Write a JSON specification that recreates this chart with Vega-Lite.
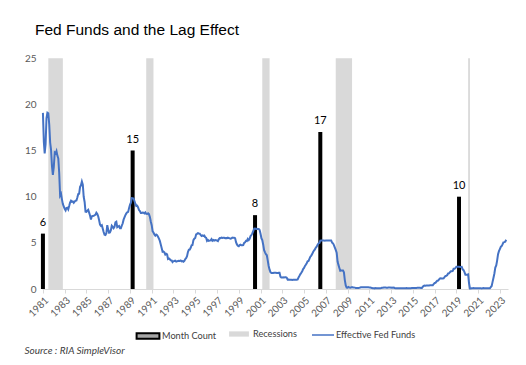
{
  "$schema": "https://vega.github.io/schema/vega-lite/v6.json",
  "autosize": {"type": "none"},
  "width": 466,
  "height": 240,
  "padding": {"left": 42, "top": 49, "right": 18, "bottom": 76},
  "background": "white",
  "title": {
    "text": "Fed Funds and the Lag Effect",
    "anchor": "start",
    "frame": "group",
    "dx": -7,
    "offset": 11,
    "font": "Liberation Sans",
    "fontSize": 15.5,
    "fontWeight": "normal",
    "color": "#000000"
  },
  "datasets": {
    "ff": [
      {"d":"1981-01","v":19.08},{"d":"1981-02","v":15.93},{"d":"1981-03","v":14.70},{"d":"1981-04","v":15.72},{"d":"1981-05","v":18.52},{"d":"1981-06","v":19.10},{"d":"1981-07","v":19.04},{"d":"1981-08","v":17.82},{"d":"1981-09","v":15.87},{"d":"1981-10","v":15.08},{"d":"1981-11","v":13.31},{"d":"1981-12","v":12.37},
      {"d":"1982-01","v":13.22},{"d":"1982-02","v":14.78},{"d":"1982-03","v":14.68},{"d":"1982-04","v":14.94},{"d":"1982-05","v":14.45},{"d":"1982-06","v":14.15},{"d":"1982-07","v":12.59},{"d":"1982-08","v":10.12},{"d":"1982-09","v":10.31},{"d":"1982-10","v":9.71},{"d":"1982-11","v":9.20},{"d":"1982-12","v":8.95},
      {"d":"1983-01","v":8.68},{"d":"1983-02","v":8.51},{"d":"1983-03","v":8.77},{"d":"1983-04","v":8.80},{"d":"1983-05","v":8.63},{"d":"1983-06","v":8.98},{"d":"1983-07","v":9.37},{"d":"1983-08","v":9.56},{"d":"1983-09","v":9.45},{"d":"1983-10","v":9.48},{"d":"1983-11","v":9.34},{"d":"1983-12","v":9.47},
      {"d":"1984-01","v":9.56},{"d":"1984-02","v":9.59},{"d":"1984-03","v":9.91},{"d":"1984-04","v":10.29},{"d":"1984-05","v":10.32},{"d":"1984-06","v":11.06},{"d":"1984-07","v":11.23},{"d":"1984-08","v":11.64},{"d":"1984-09","v":11.30},{"d":"1984-10","v":9.99},{"d":"1984-11","v":9.43},{"d":"1984-12","v":8.38},
      {"d":"1985-01","v":8.35},{"d":"1985-02","v":8.50},{"d":"1985-03","v":8.58},{"d":"1985-04","v":8.27},{"d":"1985-05","v":7.97},{"d":"1985-06","v":7.53},{"d":"1985-07","v":7.88},{"d":"1985-08","v":7.90},{"d":"1985-09","v":7.92},{"d":"1985-10","v":7.99},{"d":"1985-11","v":8.05},{"d":"1985-12","v":8.27},
      {"d":"1986-01","v":8.14},{"d":"1986-02","v":7.86},{"d":"1986-03","v":7.48},{"d":"1986-04","v":6.99},{"d":"1986-05","v":6.85},{"d":"1986-06","v":6.92},{"d":"1986-07","v":6.56},{"d":"1986-08","v":6.17},{"d":"1986-09","v":5.89},{"d":"1986-10","v":5.85},{"d":"1986-11","v":6.04},{"d":"1986-12","v":6.91},
      {"d":"1987-01","v":6.43},{"d":"1987-02","v":6.10},{"d":"1987-03","v":6.13},{"d":"1987-04","v":6.37},{"d":"1987-05","v":6.85},{"d":"1987-06","v":6.73},{"d":"1987-07","v":6.58},{"d":"1987-08","v":6.73},{"d":"1987-09","v":7.22},{"d":"1987-10","v":7.29},{"d":"1987-11","v":6.69},{"d":"1987-12","v":6.77},
      {"d":"1988-01","v":6.83},{"d":"1988-02","v":6.58},{"d":"1988-03","v":6.58},{"d":"1988-04","v":6.87},{"d":"1988-05","v":7.09},{"d":"1988-06","v":7.51},{"d":"1988-07","v":7.75},{"d":"1988-08","v":8.01},{"d":"1988-09","v":8.19},{"d":"1988-10","v":8.30},{"d":"1988-11","v":8.35},{"d":"1988-12","v":8.76},
      {"d":"1989-01","v":9.12},{"d":"1989-02","v":9.36},{"d":"1989-03","v":9.85},{"d":"1989-04","v":9.84},{"d":"1989-05","v":9.81},{"d":"1989-06","v":9.53},{"d":"1989-07","v":9.24},{"d":"1989-08","v":8.99},{"d":"1989-09","v":9.02},{"d":"1989-10","v":8.84},{"d":"1989-11","v":8.55},{"d":"1989-12","v":8.45},
      {"d":"1990-01","v":8.23},{"d":"1990-02","v":8.24},{"d":"1990-03","v":8.28},{"d":"1990-04","v":8.26},{"d":"1990-05","v":8.18},{"d":"1990-06","v":8.29},{"d":"1990-07","v":8.15},{"d":"1990-08","v":8.13},{"d":"1990-09","v":8.20},{"d":"1990-10","v":8.11},{"d":"1990-11","v":7.81},{"d":"1990-12","v":7.31},
      {"d":"1991-01","v":6.91},{"d":"1991-02","v":6.25},{"d":"1991-03","v":6.12},{"d":"1991-04","v":5.91},{"d":"1991-05","v":5.78},{"d":"1991-06","v":5.90},{"d":"1991-07","v":5.82},{"d":"1991-08","v":5.66},{"d":"1991-09","v":5.45},{"d":"1991-10","v":5.21},{"d":"1991-11","v":4.81},{"d":"1991-12","v":4.43},
      {"d":"1992-01","v":4.03},{"d":"1992-02","v":4.06},{"d":"1992-03","v":3.98},{"d":"1992-04","v":3.73},{"d":"1992-05","v":3.82},{"d":"1992-06","v":3.76},{"d":"1992-07","v":3.25},{"d":"1992-08","v":3.30},{"d":"1992-09","v":3.22},{"d":"1992-10","v":3.10},{"d":"1992-11","v":3.09},{"d":"1992-12","v":2.92},
      {"d":"1993-01","v":3.02},{"d":"1993-02","v":3.03},{"d":"1993-03","v":3.07},{"d":"1993-04","v":2.96},{"d":"1993-05","v":3.00},{"d":"1993-06","v":3.04},{"d":"1993-07","v":3.06},{"d":"1993-08","v":3.03},{"d":"1993-09","v":3.09},{"d":"1993-10","v":2.99},{"d":"1993-11","v":3.02},{"d":"1993-12","v":2.96},
      {"d":"1994-01","v":3.05},{"d":"1994-02","v":3.25},{"d":"1994-03","v":3.34},{"d":"1994-04","v":3.56},{"d":"1994-05","v":4.01},{"d":"1994-06","v":4.25},{"d":"1994-07","v":4.26},{"d":"1994-08","v":4.47},{"d":"1994-09","v":4.73},{"d":"1994-10","v":4.76},{"d":"1994-11","v":5.29},{"d":"1994-12","v":5.45},
      {"d":"1995-01","v":5.53},{"d":"1995-02","v":5.92},{"d":"1995-03","v":5.98},{"d":"1995-04","v":6.05},{"d":"1995-05","v":6.01},{"d":"1995-06","v":6.00},{"d":"1995-07","v":5.85},{"d":"1995-08","v":5.74},{"d":"1995-09","v":5.80},{"d":"1995-10","v":5.76},{"d":"1995-11","v":5.80},{"d":"1995-12","v":5.60},
      {"d":"1996-01","v":5.56},{"d":"1996-02","v":5.22},{"d":"1996-03","v":5.31},{"d":"1996-04","v":5.22},{"d":"1996-05","v":5.24},{"d":"1996-06","v":5.27},{"d":"1996-07","v":5.40},{"d":"1996-08","v":5.22},{"d":"1996-09","v":5.30},{"d":"1996-10","v":5.24},{"d":"1996-11","v":5.31},{"d":"1996-12","v":5.29},
      {"d":"1997-01","v":5.25},{"d":"1997-02","v":5.19},{"d":"1997-03","v":5.39},{"d":"1997-04","v":5.51},{"d":"1997-05","v":5.50},{"d":"1997-06","v":5.56},{"d":"1997-07","v":5.52},{"d":"1997-08","v":5.54},{"d":"1997-09","v":5.54},{"d":"1997-10","v":5.50},{"d":"1997-11","v":5.52},{"d":"1997-12","v":5.50},
      {"d":"1998-01","v":5.56},{"d":"1998-02","v":5.51},{"d":"1998-03","v":5.49},{"d":"1998-04","v":5.45},{"d":"1998-05","v":5.49},{"d":"1998-06","v":5.56},{"d":"1998-07","v":5.54},{"d":"1998-08","v":5.55},{"d":"1998-09","v":5.51},{"d":"1998-10","v":5.07},{"d":"1998-11","v":4.83},{"d":"1998-12","v":4.68},
      {"d":"1999-01","v":4.63},{"d":"1999-02","v":4.76},{"d":"1999-03","v":4.81},{"d":"1999-04","v":4.74},{"d":"1999-05","v":4.74},{"d":"1999-06","v":4.76},{"d":"1999-07","v":4.99},{"d":"1999-08","v":5.07},{"d":"1999-09","v":5.22},{"d":"1999-10","v":5.20},{"d":"1999-11","v":5.42},{"d":"1999-12","v":5.30},
      {"d":"2000-01","v":5.45},{"d":"2000-02","v":5.73},{"d":"2000-03","v":5.85},{"d":"2000-04","v":6.02},{"d":"2000-05","v":6.27},{"d":"2000-06","v":6.53},{"d":"2000-07","v":6.54},{"d":"2000-08","v":6.50},{"d":"2000-09","v":6.52},{"d":"2000-10","v":6.51},{"d":"2000-11","v":6.51},{"d":"2000-12","v":6.40},
      {"d":"2001-01","v":5.98},{"d":"2001-02","v":5.49},{"d":"2001-03","v":5.31},{"d":"2001-04","v":4.80},{"d":"2001-05","v":4.21},{"d":"2001-06","v":3.97},{"d":"2001-07","v":3.77},{"d":"2001-08","v":3.65},{"d":"2001-09","v":3.07},{"d":"2001-10","v":2.49},{"d":"2001-11","v":2.09},{"d":"2001-12","v":1.82},
      {"d":"2002-01","v":1.73},{"d":"2002-02","v":1.74},{"d":"2002-03","v":1.73},{"d":"2002-04","v":1.75},{"d":"2002-05","v":1.75},{"d":"2002-06","v":1.75},{"d":"2002-07","v":1.73},{"d":"2002-08","v":1.74},{"d":"2002-09","v":1.75},{"d":"2002-10","v":1.75},{"d":"2002-11","v":1.34},{"d":"2002-12","v":1.24},
      {"d":"2003-01","v":1.24},{"d":"2003-02","v":1.26},{"d":"2003-03","v":1.25},{"d":"2003-04","v":1.26},{"d":"2003-05","v":1.26},{"d":"2003-06","v":1.22},{"d":"2003-07","v":1.01},{"d":"2003-08","v":1.03},{"d":"2003-09","v":1.01},{"d":"2003-10","v":1.01},{"d":"2003-11","v":1.00},{"d":"2003-12","v":0.98},
      {"d":"2004-01","v":1.00},{"d":"2004-02","v":1.01},{"d":"2004-03","v":1.00},{"d":"2004-04","v":1.00},{"d":"2004-05","v":1.00},{"d":"2004-06","v":1.03},{"d":"2004-07","v":1.26},{"d":"2004-08","v":1.43},{"d":"2004-09","v":1.61},{"d":"2004-10","v":1.76},{"d":"2004-11","v":1.93},{"d":"2004-12","v":2.16},
      {"d":"2005-01","v":2.28},{"d":"2005-02","v":2.50},{"d":"2005-03","v":2.63},{"d":"2005-04","v":2.79},{"d":"2005-05","v":3.00},{"d":"2005-06","v":3.04},{"d":"2005-07","v":3.26},{"d":"2005-08","v":3.50},{"d":"2005-09","v":3.62},{"d":"2005-10","v":3.78},{"d":"2005-11","v":4.00},{"d":"2005-12","v":4.16},
      {"d":"2006-01","v":4.29},{"d":"2006-02","v":4.49},{"d":"2006-03","v":4.59},{"d":"2006-04","v":4.79},{"d":"2006-05","v":4.94},{"d":"2006-06","v":4.99},{"d":"2006-07","v":5.24},{"d":"2006-08","v":5.25},{"d":"2006-09","v":5.25},{"d":"2006-10","v":5.25},{"d":"2006-11","v":5.25},{"d":"2006-12","v":5.24},
      {"d":"2007-01","v":5.25},{"d":"2007-02","v":5.26},{"d":"2007-03","v":5.26},{"d":"2007-04","v":5.25},{"d":"2007-05","v":5.25},{"d":"2007-06","v":5.25},{"d":"2007-07","v":5.26},{"d":"2007-08","v":5.02},{"d":"2007-09","v":4.94},{"d":"2007-10","v":4.76},{"d":"2007-11","v":4.49},{"d":"2007-12","v":4.24},
      {"d":"2008-01","v":3.94},{"d":"2008-02","v":2.98},{"d":"2008-03","v":2.61},{"d":"2008-04","v":2.28},{"d":"2008-05","v":1.98},{"d":"2008-06","v":2.00},{"d":"2008-07","v":2.01},{"d":"2008-08","v":2.00},{"d":"2008-09","v":1.81},{"d":"2008-10","v":0.97},{"d":"2008-11","v":0.39},{"d":"2008-12","v":0.16},
      {"d":"2009-01","v":0.15},{"d":"2009-02","v":0.22},{"d":"2009-03","v":0.18},{"d":"2009-04","v":0.15},{"d":"2009-05","v":0.18},{"d":"2009-06","v":0.21},{"d":"2009-07","v":0.16},{"d":"2009-08","v":0.16},{"d":"2009-09","v":0.15},{"d":"2009-10","v":0.12},{"d":"2009-11","v":0.12},{"d":"2009-12","v":0.12},
      {"d":"2010-01","v":0.11},{"d":"2010-02","v":0.13},{"d":"2010-03","v":0.16},{"d":"2010-04","v":0.20},{"d":"2010-05","v":0.20},{"d":"2010-06","v":0.18},{"d":"2010-07","v":0.18},{"d":"2010-08","v":0.19},{"d":"2010-09","v":0.19},{"d":"2010-10","v":0.19},{"d":"2010-11","v":0.19},{"d":"2010-12","v":0.18},
      {"d":"2011-01","v":0.17},{"d":"2011-02","v":0.16},{"d":"2011-03","v":0.14},{"d":"2011-04","v":0.10},{"d":"2011-05","v":0.09},{"d":"2011-06","v":0.09},{"d":"2011-07","v":0.07},{"d":"2011-08","v":0.10},{"d":"2011-09","v":0.08},{"d":"2011-10","v":0.07},{"d":"2011-11","v":0.08},{"d":"2011-12","v":0.07},
      {"d":"2012-01","v":0.08},{"d":"2012-02","v":0.10},{"d":"2012-03","v":0.13},{"d":"2012-04","v":0.14},{"d":"2012-05","v":0.16},{"d":"2012-06","v":0.16},{"d":"2012-07","v":0.16},{"d":"2012-08","v":0.13},{"d":"2012-09","v":0.14},{"d":"2012-10","v":0.16},{"d":"2012-11","v":0.16},{"d":"2012-12","v":0.16},
      {"d":"2013-01","v":0.14},{"d":"2013-02","v":0.15},{"d":"2013-03","v":0.14},{"d":"2013-04","v":0.15},{"d":"2013-05","v":0.11},{"d":"2013-06","v":0.09},{"d":"2013-07","v":0.09},{"d":"2013-08","v":0.08},{"d":"2013-09","v":0.08},{"d":"2013-10","v":0.09},{"d":"2013-11","v":0.08},{"d":"2013-12","v":0.09},
      {"d":"2014-01","v":0.07},{"d":"2014-02","v":0.07},{"d":"2014-03","v":0.08},{"d":"2014-04","v":0.09},{"d":"2014-05","v":0.09},{"d":"2014-06","v":0.10},{"d":"2014-07","v":0.09},{"d":"2014-08","v":0.09},{"d":"2014-09","v":0.09},{"d":"2014-10","v":0.09},{"d":"2014-11","v":0.09},{"d":"2014-12","v":0.12},
      {"d":"2015-01","v":0.11},{"d":"2015-02","v":0.11},{"d":"2015-03","v":0.11},{"d":"2015-04","v":0.12},{"d":"2015-05","v":0.12},{"d":"2015-06","v":0.13},{"d":"2015-07","v":0.13},{"d":"2015-08","v":0.14},{"d":"2015-09","v":0.14},{"d":"2015-10","v":0.12},{"d":"2015-11","v":0.12},{"d":"2015-12","v":0.24},
      {"d":"2016-01","v":0.34},{"d":"2016-02","v":0.38},{"d":"2016-03","v":0.36},{"d":"2016-04","v":0.37},{"d":"2016-05","v":0.37},{"d":"2016-06","v":0.38},{"d":"2016-07","v":0.39},{"d":"2016-08","v":0.40},{"d":"2016-09","v":0.40},{"d":"2016-10","v":0.40},{"d":"2016-11","v":0.41},{"d":"2016-12","v":0.54},
      {"d":"2017-01","v":0.65},{"d":"2017-02","v":0.66},{"d":"2017-03","v":0.79},{"d":"2017-04","v":0.90},{"d":"2017-05","v":0.91},{"d":"2017-06","v":1.04},{"d":"2017-07","v":1.15},{"d":"2017-08","v":1.16},{"d":"2017-09","v":1.15},{"d":"2017-10","v":1.15},{"d":"2017-11","v":1.16},{"d":"2017-12","v":1.30},
      {"d":"2018-01","v":1.41},{"d":"2018-02","v":1.42},{"d":"2018-03","v":1.51},{"d":"2018-04","v":1.69},{"d":"2018-05","v":1.70},{"d":"2018-06","v":1.82},{"d":"2018-07","v":1.91},{"d":"2018-08","v":1.91},{"d":"2018-09","v":1.95},{"d":"2018-10","v":2.19},{"d":"2018-11","v":2.20},{"d":"2018-12","v":2.27},
      {"d":"2019-01","v":2.40},{"d":"2019-02","v":2.40},{"d":"2019-03","v":2.41},{"d":"2019-04","v":2.42},{"d":"2019-05","v":2.39},{"d":"2019-06","v":2.38},{"d":"2019-07","v":2.40},{"d":"2019-08","v":2.13},{"d":"2019-09","v":2.04},{"d":"2019-10","v":1.83},{"d":"2019-11","v":1.55},{"d":"2019-12","v":1.55},
      {"d":"2020-01","v":1.55},{"d":"2020-02","v":1.58},{"d":"2020-03","v":0.65},{"d":"2020-04","v":0.05},{"d":"2020-05","v":0.05},{"d":"2020-06","v":0.08},{"d":"2020-07","v":0.09},{"d":"2020-08","v":0.10},{"d":"2020-09","v":0.09},{"d":"2020-10","v":0.09},{"d":"2020-11","v":0.09},{"d":"2020-12","v":0.09},
      {"d":"2021-01","v":0.09},{"d":"2021-02","v":0.08},{"d":"2021-03","v":0.07},{"d":"2021-04","v":0.07},{"d":"2021-05","v":0.06},{"d":"2021-06","v":0.08},{"d":"2021-07","v":0.10},{"d":"2021-08","v":0.09},{"d":"2021-09","v":0.08},{"d":"2021-10","v":0.08},{"d":"2021-11","v":0.08},{"d":"2021-12","v":0.08},
      {"d":"2022-01","v":0.08},{"d":"2022-02","v":0.08},{"d":"2022-03","v":0.20},{"d":"2022-04","v":0.33},{"d":"2022-05","v":0.77},{"d":"2022-06","v":1.21},{"d":"2022-07","v":1.68},{"d":"2022-08","v":2.33},{"d":"2022-09","v":2.56},{"d":"2022-10","v":3.08},{"d":"2022-11","v":3.78},{"d":"2022-12","v":4.10},
      {"d":"2023-01","v":4.33},{"d":"2023-02","v":4.57},{"d":"2023-03","v":4.65},{"d":"2023-04","v":4.83},{"d":"2023-05","v":5.06},{"d":"2023-06","v":5.08},{"d":"2023-07","v":5.12},{"d":"2023-08","v":5.33}
    ],
    "bars": [
      {"d":"1981-01","n":6},
      {"d":"1989-04","n":15},
      {"d":"2000-07","n":8},
      {"d":"2006-07","n":17},
      {"d":"2019-04","n":10}
    ],
    "rec": [
      {"s":"1981-07","e":"1982-11"},
      {"s":"1990-07","e":"1991-03"},
      {"s":"2001-03","e":"2001-11"},
      {"s":"2007-12","e":"2009-06"},
      {"s":"2020-02","e":"2020-04"}
    ]
  },
  "encoding": {
    "x": {
      "type": "temporal",
      "scale": {"type": "utc", "domain": ["1980-12-01", "2023-10-01"]},
      "axis": {
        "values": [
          {"year":1981,"utc":true},{"year":1983,"utc":true},{"year":1985,"utc":true},{"year":1987,"utc":true},{"year":1989,"utc":true},{"year":1991,"utc":true},{"year":1993,"utc":true},{"year":1995,"utc":true},{"year":1997,"utc":true},{"year":1999,"utc":true},{"year":2001,"utc":true},{"year":2003,"utc":true},{"year":2005,"utc":true},{"year":2007,"utc":true},{"year":2009,"utc":true},{"year":2011,"utc":true},{"year":2013,"utc":true},{"year":2015,"utc":true},{"year":2017,"utc":true},{"year":2019,"utc":true},{"year":2021,"utc":true},{"year":2023,"utc":true}
        ],
        "format": "%Y",
        "formatType": "utc",
        "labelAngle": -45,
        "labelFontSize": 10,
        "labelColor": "#595959",
        "labelFont": "Lato",
        "labelPadding": 2,
        "labelOverlap": false,
        "labelFlush": false,
        "grid": false,
        "domainColor": "#d9d9d9",
        "tickColor": "#d9d9d9",
        "tickSize": 4,
        "title": "Source : RIA SimpleVisor",
        "titleAnchor": "start",
        "titleAlign": "left",
        "titleBaseline": "alphabetic",
        "titleX": -18,
        "titleY": 64,
        "titleFont": "Lato",
        "titleFontStyle": "italic",
        "titleFontWeight": "normal",
        "titleFontSize": 10,
        "titleColor": "#404040"
      }
    }
  },
  "layer": [
    {
      "data": {"name": "rec"},
      "mark": {"type": "rect", "opacity": 1},
      "encoding": {
        "x": {"field": "s", "type": "temporal"},
        "x2": {"field": "e"},
        "y": {"datum": 25, "type": "quantitative"},
        "y2": {"datum": 0},
        "fill": {
          "datum": "Recessions",
          "type": "nominal",
          "scale": {"domain": ["Recessions"], "range": ["#d9d9d9"]},
          "legend": {
            "orient": "none",
            "legendX": 186,
            "legendY": 274,
            "title": null,
            "symbolType": "M-0.9,-0.24H0.9V0.24H-0.9Z",
            "symbolSize": 484,
            "symbolStrokeWidth": 0,
            "labelOffset": 3
          }
        }
      }
    },
    {
      "data": {"name": "bars"},
      "mark": {"type": "rule", "strokeWidth": 4},
      "encoding": {
        "x": {"field": "d", "type": "temporal"},
        "y": {"field": "n", "type": "quantitative"},
        "y2": {"datum": 0},
        "stroke": {
          "datum": "Month Count",
          "type": "nominal",
          "scale": {"domain": ["Month Count"], "range": ["#000000"]},
          "legend": {
            "orient": "none",
            "legendX": 93,
            "legendY": 274,
            "title": null,
            "symbolType": "M-0.95,-0.22H0.95V0.22H-0.95Z",
            "symbolSize": 576,
            "symbolStrokeWidth": 2,
            "symbolFillColor": "#a6a6a6",
            "labelOffset": 1
          }
        }
      }
    },
    {
      "data": {"name": "ff"},
      "mark": {"type": "line", "strokeWidth": 2, "interpolate": "linear"},
      "encoding": {
        "x": {"field": "d", "type": "temporal"},
        "y": {"field": "v", "type": "quantitative"},
        "color": {
          "datum": "Effective Fed Funds",
          "type": "nominal",
          "scale": {"domain": ["Effective Fed Funds"], "range": ["#4472c4"]},
          "legend": {
            "orient": "none",
            "legendX": 269,
            "legendY": 274,
            "title": null,
            "symbolType": "stroke",
            "symbolSize": 484,
            "symbolStrokeWidth": 1.5,
            "labelOffset": 1
          }
        }
      }
    },
    {
      "data": {"name": "bars"},
      "mark": {"type": "text", "baseline": "bottom", "dy": -6, "fontSize": 11, "font": "Lato", "color": "#000000"},
      "encoding": {
        "x": {"field": "d", "type": "temporal"},
        "y": {"field": "n", "type": "quantitative"},
        "text": {"field": "n", "type": "quantitative"}
      }
    }
  ],
  "config": {
    "view": {"stroke": null},
    "font": "Lato",
    "legend": {
      "labelFontSize": 9.2,
      "labelColor": "#404040",
      "labelFont": "Lato"
    },
    "axisY": {
      "title": null,
      "domain": false,
      "ticks": false,
      "gridColor": "#d9d9d9",
      "labelColor": "#595959",
      "labelFontSize": 10,
      "labelPadding": 6,
      "values": [0, 5, 10, 15, 20, 25]
    }
  }
}
